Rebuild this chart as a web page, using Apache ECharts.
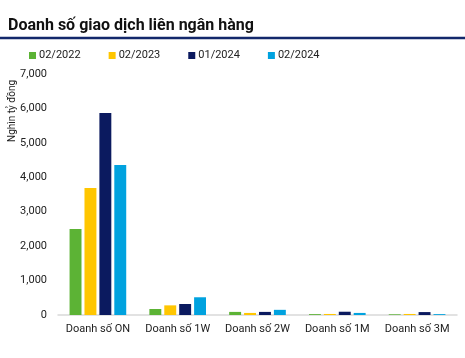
<!DOCTYPE html>
<html><head><meta charset="utf-8">
<script src="https://cdn.jsdelivr.net/npm/echarts@6/dist/echarts.min.js"></script>
<style>html,body{margin:0;padding:0;background:#fff}#c{width:465px;height:358px}</style>
</head><body><div id="c"></div>
<script>
const categories = ['Doanh số ON','Doanh số 1W','Doanh số 2W','Doanh số 1M','Doanh số 3M'];
const seriesNames = ['02/2022','02/2023','01/2024','02/2024'];
const s2022 = [2500, 175, 90, 25, 20];
const s2023 = [3690, 280, 60, 30, 30];
const s012024 = [5870, 320, 90, 95, 85];
const s022024 = [4360, 515, 150, 60, 25];
const yTicks = {min: 0, max: 7000, interval: 1000};
const colors = ['#5cb335','#ffc600','#0b1a5f','#00a2df'];
const font = 'Roboto, "Liberation Sans", sans-serif';
const chart = echarts.init(document.getElementById('c'), null, {renderer:'canvas'});
const data = [s2022, s2023, s012024, s022024];
chart.setOption({
  animation: false,
  color: colors,
  textStyle: {fontFamily: font},
  title: {text: 'Doanh số giao dịch liên ngân hàng', left: 3, top: 13,
    textStyle: {fontFamily: font, fontSize: 16, fontWeight: 'bold', color: '#111'}},
  graphic: [
    {type: 'line', shape: {x1: 0, y1: 38, x2: 465, y2: 38}, style: {stroke: '#13286b', lineWidth: 2.5}},
    {type: 'text', x: 7, y: 142, rotation: Math.PI/2,
      style: {text: 'Nghìn tỷ đồng', font: '10px ' + font, fill: '#222', textVerticalAlign: 'top'}}
  ],
  legend: {left: 24, top: 45, itemWidth: 7, itemHeight: 7, itemGap: 28, icon: 'rect',
    textStyle: {fontFamily: font, fontSize: 11, color: '#222', padding: [0,0,0,-2]}},
  grid: {left: 58, right: 8, top: 74, bottom: 43},
  xAxis: {type: 'category', data: categories,
    axisLine: {lineStyle: {color: '#d9d9d9', width: 1.5}}, axisTick: {show: false},
    axisLabel: {fontFamily: font, fontSize: 11, color: '#222', margin: 9, interval: 0}},
  yAxis: {type: 'value', min: yTicks.min, max: yTicks.max, interval: yTicks.interval,
    splitLine: {show: false}, axisLine: {show: false}, axisTick: {show: false},
    axisLabel: {fontFamily: font, fontSize: 11, color: '#222', margin: 11,
      formatter: v => v.toLocaleString('en-US')}},
  series: seriesNames.map((n, i) => ({
    name: n, type: 'bar', data: data[i], barGap: '25%', barCategoryGap: '29%'
  }))
});
</script></body></html>
